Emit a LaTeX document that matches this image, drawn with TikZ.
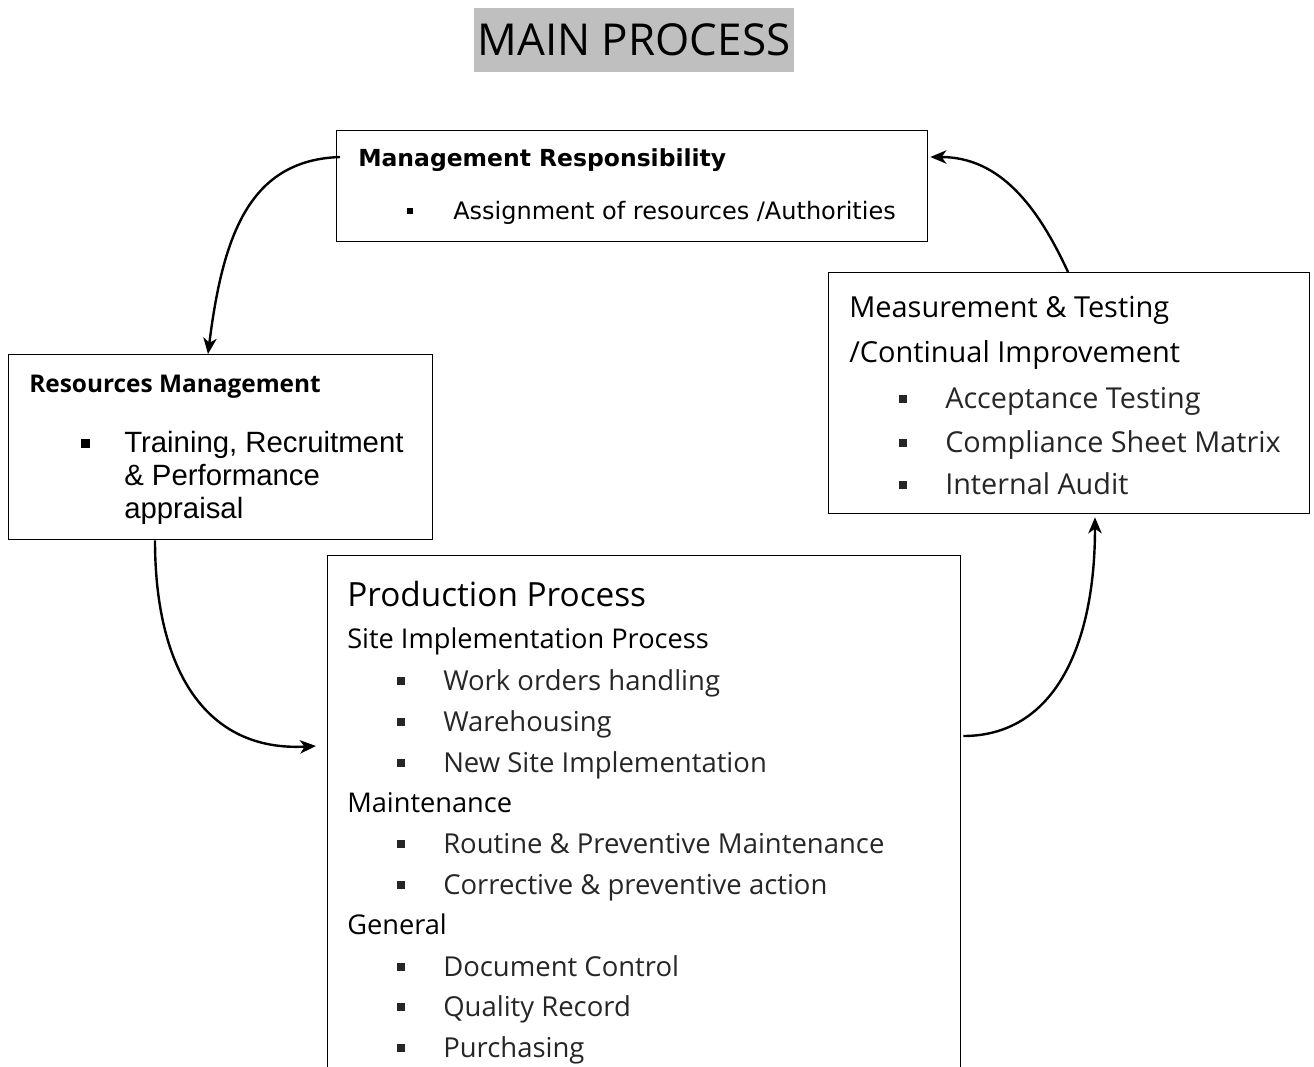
\documentclass[tikz,border=0pt]{standalone}
\usepackage{fontspec}
\setmainfont{Open Sans}
\newfontfamily\verd{DejaVu Sans}
\newfontfamily\ari{Liberation Sans}
\newfontfamily\seg{Open Sans}
\usetikzlibrary{arrows.meta}
\newcommand\sqb[3]{\llap{\rule[#1]{#2}{#2}\hspace*{#3}}}
\tikzset{
  box/.style={draw, line width=1pt, inner sep=0pt, anchor=north west},
  txt/.style={anchor=base west, inner sep=0pt},
  head/.style={txt, font=\seg\fontsize{20.4}{24}\selectfont},
  pitem/.style={txt, text=black!85, font=\seg\fontsize{20.6}{24}\selectfont},
  mitem/.style={txt, text=black!85, font=\seg\fontsize{21.6}{25}\selectfont},
  arr/.style={-{Stealth[length=12pt,width=10pt,inset=3.5pt]}, line width=1.8pt}
}
\begin{document}
\begin{tikzpicture}[x=0.75pt,y=-0.75pt]
\useasboundingbox (0,0) rectangle (1314,1067);
% title
\node (title) [fill=black!25, minimum width=240pt, minimum height=48pt, inner sep=0pt,
  font=\seg\fontsize{33}{38}\selectfont] at (634,40) {MAIN PROCESS};
% boxes
\node (mgmt) [box, minimum width=443.25pt, minimum height=83.25pt] at (336,130) {};
\node (res)  [box, minimum width=318pt, minimum height=138.75pt] at (8,354) {};
\node (meas) [box, minimum width=360.75pt, minimum height=180.75pt] at (828,272) {};
\node (prod) [box, minimum width=474.75pt, minimum height=450pt] at (327,555) {};
% management text
\node (m1) [txt, font=\verd\bfseries\fontsize{17.6}{21}\selectfont] at (358,166) {Management Responsibility};
\node (m2) [txt, font=\verd\fontsize{18}{21}\selectfont] at (453,219) {\sqb{3.5pt}{5pt}{30pt}Assignment of resources /Authorities};
% resources text
\node (r1) [txt, font=\seg\bfseries\fontsize{18.3}{22}\selectfont] at (29,392) {Resources Management};
\node (r2) [txt, font=\ari\fontsize{22}{25}\selectfont] at (124,452) {\sqb{3pt}{6.5pt}{26pt}Training, Recruitment};
\node (r3) [txt, font=\ari\fontsize{22}{25}\selectfont] at (124,485) {\&~Performance};
\node (r4) [txt, font=\ari\fontsize{22}{25}\selectfont] at (124,518) {appraisal};
% measurement text
\node (t1) [txt, font=\seg\fontsize{21.7}{25}\selectfont] at (849,317) {Measurement \& Testing};
\node (t2) [txt, font=\seg\fontsize{21.7}{25}\selectfont] at (849,362) {/Continual Improvement};
\node (t3) [mitem] at (945,408) {\sqb{4pt}{6pt}{29pt}Acceptance Testing};
\node (t4) [mitem] at (945,452) {\sqb{4pt}{6pt}{29pt}Compliance Sheet Matrix};
\node (t5) [mitem] at (945,494) {\sqb{4pt}{6pt}{29pt}Internal Audit};
% production text
\node (p0) [txt, font=\seg\fontsize{25}{30}\selectfont] at (347,606) {Production Process};
\node (p1) [head] at (347,648) {Site Implementation Process};
\node (p2) [pitem] at (443,690) {\sqb{4pt}{6pt}{29pt}Work orders handling};
\node (p3) [pitem] at (443,731) {\sqb{4pt}{6pt}{29pt}Warehousing};
\node (p4) [pitem] at (443,772) {\sqb{4pt}{6pt}{29pt}New Site Implementation};
\node (p5) [head] at (347,812) {Maintenance};
\node (p6) [pitem] at (443,853) {\sqb{4pt}{6pt}{29pt}Routine \& Preventive Maintenance};
\node (p7) [pitem] at (443,894) {\sqb{4pt}{6pt}{29pt}Corrective \& preventive action};
\node (p8) [head] at (347,934) {General};
\node (p9) [pitem] at (443,976) {\sqb{4pt}{6pt}{29pt}Document Control};
\node (p10) [pitem] at (443,1016) {\sqb{4pt}{6pt}{29pt}Quality Record};
\node (p11) [pitem] at (443,1057) {\sqb{4pt}{6pt}{29pt}Purchasing};
% connectors
\coordinate (e2) at ([shift={(-11,191)}]prod.north west);
\draw[arr] ([shift={(4,27)}]mgmt.north west) .. controls +(-90,3) and +(15,-120) .. ([shift={(200,0)}]res.north west);
\draw[arr] ([shift={(147,0)}]res.south west) .. controls +(0,130) and +(-110,6) .. (e2);
\draw[arr] ([shift={(2,181)}]prod.north east) .. controls +(90,0) and +(0,130) .. ([shift={(267,3)}]meas.south west);
\draw[arr] ([shift={(240,0)}]meas.north west) .. controls +(-30,-65) and +(70,0) .. ([shift={(2,27)}]mgmt.north east);
\end{tikzpicture}
\end{document}
